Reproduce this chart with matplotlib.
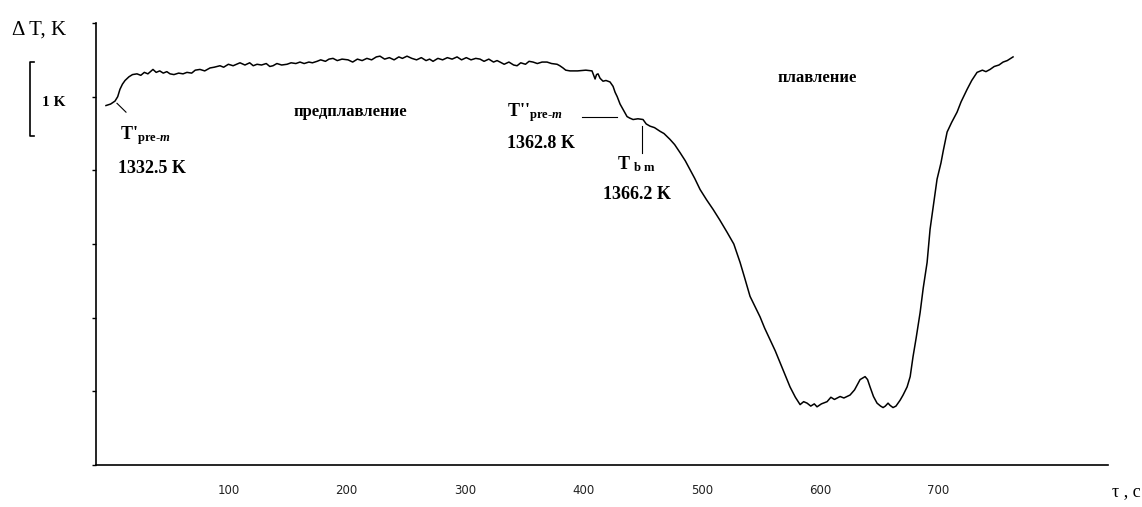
import matplotlib.pyplot as plt
from matplotlib import transforms

# время, с
tau = [-3.4, 0.5, 4.2, 6.5, 8.4, 10.5, 12.7, 16, 19, 22.8, 26, 29, 32, 36.3, 39, 42, 45, 48,
       50.7, 54, 58, 61.7, 65, 69, 72, 76, 80, 84.5, 88, 92.9, 96, 100, 104, 109.8, 114, 118,
       121, 124.2, 128, 132, 135, 137.7, 141, 145, 149.5, 153, 157, 160.5, 164, 168, 171,
       174.9, 178, 182, 185, 188.4, 192, 196, 201.1, 205, 209, 213, 217, 221, 225, 228.1,
       232, 236, 240, 244, 247, 250.9, 255, 259, 263, 267, 270, 272.9, 277, 281, 285, 289,
       293.2, 297, 301, 305, 309, 312.6, 316, 320, 324, 327, 329.5, 333, 337, 341, 343.9,
       347, 351, 354, 357.4, 361, 365, 369.2, 373, 377.7, 380, 382.7, 385, 388.6, 395, 402,
       407.2, 409.8, 411, 412.3, 414, 416.5, 419, 422.4, 425, 426.7, 428.5, 430.9, 433,
       436.8, 439, 441.9, 446, 450.3, 453, 456.2, 460, 464.7, 468, 473.1, 477, 481.6, 486,
       490, 494, 498.5, 504, 509.5, 515, 521.3, 527, 532.3, 536, 540.7, 545, 549.2, 553,
       557.6, 562, 566.1, 570, 574.5, 579, 583, 586, 588.9, 592, 595, 597.3, 601, 605.8,
       609, 612, 616.8, 620, 625.2, 629, 633.7, 637.9, 640, 642.1, 645, 648, 651, 653.1,
       655, 657.3, 659, 661.5, 664, 667.5, 670, 673.4, 676, 678.4, 681, 684.4, 687, 690.3,
       692.8, 695, 698.7, 702, 704, 707.2, 711, 715.6, 719, 724.1, 728, 732.5, 737, 740,
       743.5, 747, 751, 754.5, 758, 762.9]

# сигнал ДТА, K
dT = [4.88, 4.90, 4.94, 5.00, 5.10, 5.17, 5.22, 5.27, 5.30, 5.31, 5.29, 5.33, 5.31, 5.37,
      5.33, 5.35, 5.32, 5.34, 5.31, 5.30, 5.32, 5.31, 5.33, 5.32, 5.36, 5.37, 5.35, 5.39,
      5.40, 5.42, 5.40, 5.44, 5.42, 5.46, 5.43, 5.46, 5.42, 5.44, 5.43, 5.45, 5.41, 5.42,
      5.45, 5.43, 5.44, 5.46, 5.45, 5.47, 5.45, 5.47, 5.46, 5.48, 5.50, 5.48, 5.51, 5.52,
      5.49, 5.51, 5.50, 5.47, 5.51, 5.49, 5.52, 5.50, 5.54, 5.55, 5.51, 5.53, 5.50, 5.54,
      5.52, 5.55, 5.52, 5.50, 5.53, 5.49, 5.51, 5.48, 5.52, 5.50, 5.53, 5.51, 5.54, 5.50,
      5.53, 5.50, 5.52, 5.51, 5.48, 5.51, 5.47, 5.49, 5.47, 5.44, 5.47, 5.43, 5.42, 5.46,
      5.44, 5.48, 5.47, 5.45, 5.47, 5.47, 5.45, 5.44, 5.42, 5.39, 5.36, 5.35, 5.35, 5.36,
      5.35, 5.24, 5.30, 5.31, 5.25, 5.21, 5.22, 5.20, 5.14, 5.06, 5.00, 4.90, 4.84, 4.73,
      4.71, 4.69, 4.70, 4.69, 4.63, 4.60, 4.58, 4.53, 4.50, 4.42, 4.35, 4.24, 4.13, 4.01,
      3.89, 3.74, 3.60, 3.47, 3.33, 3.16, 3.00, 2.75, 2.55, 2.29, 2.15, 2.01, 1.86, 1.70,
      1.55, 1.39, 1.24, 1.06, 0.92, 0.82, 0.86, 0.84, 0.80, 0.83, 0.79, 0.83, 0.86, 0.92,
      0.89, 0.93, 0.91, 0.95, 1.02, 1.16, 1.20, 1.16, 1.06, 0.93, 0.84, 0.80, 0.78, 0.80,
      0.84, 0.81, 0.78, 0.80, 0.88, 0.95, 1.06, 1.20, 1.47, 1.72, 2.07, 2.40, 2.75, 3.20,
      3.45, 3.88, 4.10, 4.27, 4.52, 4.65, 4.79, 4.93, 5.10, 5.22, 5.33, 5.36, 5.34, 5.37,
      5.41, 5.43, 5.47, 5.49, 5.54]

xticks = [100, 200, 300, 400, 500, 600, 700]

plt.rcParams['mathtext.fontset'] = 'custom'
plt.rcParams['mathtext.rm'] = 'Liberation Serif:bold'
plt.rcParams['mathtext.bf'] = 'Liberation Serif:bold'
plt.rcParams['mathtext.it'] = 'Liberation Serif:bold:italic'

serif = 'Liberation Serif'

fig = plt.figure(figsize=(11.42, 5.07), dpi=100)
ax = fig.add_axes([0.0841, 0.0828, 0.886, 0.8718])

ax.plot(tau, dT, color='black', lw=1.1)

ax.set_xlim(-11.8, 843)
ax.set_ylim(0, 6.0)
ax.set_xticks(xticks)
ax.set_xticklabels([str(v) for v in xticks])
ax.set_yticks(range(0, 7))
ax.set_yticklabels([])
ax.tick_params(axis='x', length=0, pad=14, labelsize=8.5, labelcolor='#222222')
ax.tick_params(axis='y', length=3, width=1, direction='out')
for s in ['top', 'right']:
    ax.spines[s].set_visible(False)
for s in ['left', 'bottom']:
    ax.spines[s].set_linewidth(1.2)

# масштаб 1 K
tr = transforms.blended_transform_factory(ax.transAxes, ax.transData)
ax.plot([-0.061, -0.065, -0.065, -0.061], [5.47, 5.47, 4.47, 4.47],
        transform=tr, clip_on=False, color='black', lw=1.2)
ax.text(-0.053, 4.92, '1 K', transform=tr, fontsize=11, family=serif,
        fontweight='bold', va='center', ha='left')

fig.text(0.0105, 0.941, 'Δ T, K', fontsize=15, family=serif, va='center', ha='left')
fig.text(0.9737, 0.0296, 'τ , c', fontsize=13, family=serif, va='center', ha='left')

# подписи
ax.text(8.4, 4.42, r"T'$_{\mathrm{pre}\text{-}m}$", fontsize=13, family=serif,
        fontweight='bold', va='baseline')
ax.text(6.8, 3.97, '1332.5 K', fontsize=13, family=serif, fontweight='bold', va='baseline')
ax.plot([5.9, 13.5], [4.91, 4.79], color='black', lw=0.8)

ax.text(202.8, 4.79, 'предплавление', fontsize=12, family=serif,
        fontweight='bold', ha='center', va='center')
ax.text(597.3, 5.25, 'плавление', fontsize=12, family=serif,
        fontweight='bold', ha='center', va='center')

ax.text(335.4, 4.73, r"T''$_{\mathrm{pre}\text{-}m}$", fontsize=13, family=serif,
        fontweight='bold', va='baseline')
ax.text(335.4, 4.31, '1362.8 K', fontsize=13, family=serif, fontweight='bold', va='baseline')
ax.plot([398.8, 428.4], [4.72, 4.72], color='black', lw=0.8)

ax.text(428.4, 4.01, r"T $_{\mathrm{b\ m}}$", fontsize=13, family=serif,
        fontweight='bold', va='baseline')
ax.text(416.5, 3.61, '1366.2 K', fontsize=13, family=serif, fontweight='bold', va='baseline')
ax.plot([449.5, 449.5], [4.60, 4.24], color='black', lw=0.8)

fig.savefig('out.png', dpi=100)
